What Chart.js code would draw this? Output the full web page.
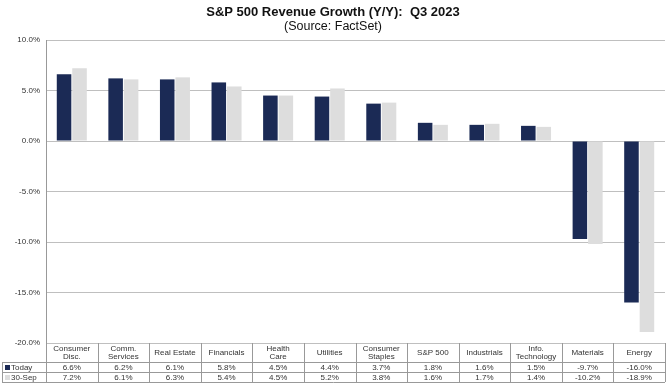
<!DOCTYPE html>
<html>
<head>
<meta charset="utf-8">
<script src="https://cdn.jsdelivr.net/npm/chart.js@4/dist/chart.umd.min.js"></script>
<style>
  html, body { margin: 0; padding: 0; background: #fff; }
  #wrap { width: 667px; height: 387px; position: relative; }
</style>
</head>
<body>
<div id="wrap"><canvas id="chart"></canvas></div>
<script>
const categories = [
  ['Consumer', 'Disc.'], ['Comm.', 'Services'], ['Real Estate'], ['Financials'],
  ['Health', 'Care'], ['Utilities'], ['Consumer', 'Staples'], ['S&P 500'],
  ['Industrials'], ['Info.', 'Technology'], ['Materials'], ['Energy']
];
const todayValues = [6.6, 6.2, 6.1, 5.8, 4.5, 4.4, 3.7, 1.8, 1.6, 1.5, -9.7, -16.0];
const sep30Values = [7.2, 6.1, 6.3, 5.4, 4.5, 5.2, 3.8, 1.6, 1.7, 1.4, -10.2, -18.9];
const yTicks = [10, 5, 0, -5, -10, -15, -20];

const NAVY = '#1b2a55';
const GREY = '#dddddd';
const LINE = '#bfbfbf';
const FONT = 'Arial, "Liberation Sans", sans-serif';

const pct = v => v.toFixed(1) + '%';

// title + data table under the plot
const tablePlugin = {
  id: 'tablePlugin',
  afterDraw(chart) {
    const { ctx, chartArea } = chart;
    const x = chart.scales.x;
    const n = categories.length;
    const cw = (chartArea.right - chartArea.left) / n;
    const top = chartArea.bottom;
    const r1 = top + 19, r2 = r1 + 10, r3 = r2 + 10;
    const leftEdge = 2;

    ctx.save();
    // title
    ctx.fillStyle = '#111';
    ctx.textAlign = 'center';
    ctx.textBaseline = 'middle';
    ctx.font = 'bold 13px ' + FONT;
    ctx.fillText('S&P 500 Revenue Growth (Y/Y):  Q3 2023', 333, 12);
    ctx.font = '12.5px ' + FONT;
    ctx.fillText('(Source: FactSet)', 333, 27);

    // table lines
    ctx.strokeStyle = '#999';
    ctx.lineWidth = 1;
    ctx.beginPath();
    for (let i = 0; i <= n; i++) {
      const xx = Math.round(chartArea.left + i * cw) + 0.5;
      ctx.moveTo(xx, top);
      ctx.lineTo(xx, r3);
    }
    [r1, r2, r3].forEach(yy => {
      ctx.moveTo(leftEdge, Math.round(yy) + 0.5);
      ctx.lineTo(chartArea.right, Math.round(yy) + 0.5);
    });
    ctx.moveTo(leftEdge + 0.5, r1);
    ctx.lineTo(leftEdge + 0.5, r3);
    ctx.stroke();

    // headers and values
    ctx.fillStyle = '#333';
    ctx.font = '8px ' + FONT;
    categories.forEach((lab, i) => {
      const cx = x.getPixelForValue(i);
      if (lab.length === 2) {
        ctx.fillText(lab[0], cx, top + 5.5);
        ctx.fillText(lab[1], cx, top + 13.5);
      } else {
        ctx.fillText(lab[0], cx, top + 10);
      }
      ctx.fillText(pct(todayValues[i]), cx, r1 + 5.5);
      ctx.fillText(pct(sep30Values[i]), cx, r2 + 5.5);
    });

    // legend keys
    ctx.textAlign = 'left';
    ctx.fillStyle = NAVY;
    ctx.fillRect(5, r1 + 3, 5, 5);
    ctx.fillStyle = GREY;
    ctx.fillRect(5, r2 + 3, 5, 5);
    ctx.fillStyle = '#333';
    ctx.fillText('Today', 11, r1 + 5.5);
    ctx.fillText('30-Sep', 11, r2 + 5.5);
    ctx.restore();
  }
};

new Chart(document.getElementById('chart'), {
  type: 'bar',
  data: {
    labels: categories,
    datasets: [
      { label: 'Today', data: todayValues, backgroundColor: NAVY, borderWidth: 0,
        categoryPercentage: 0.6, barPercentage: 0.94 },
      { label: '30-Sep', data: sep30Values, backgroundColor: GREY, borderWidth: 0,
        categoryPercentage: 0.6, barPercentage: 0.94 }
    ]
  },
  options: {
    responsive: true,
    maintainAspectRatio: false,
    animation: false,
    layout: { padding: { top: 40, right: 2, bottom: 44, left: 0 } },
    scales: {
      x: { display: false },
      y: {
        min: -20, max: 10,
        afterFit: s => { s.width = 46; },
        afterBuildTicks: s => { s.ticks = yTicks.map(v => ({ value: v })); },
        border: { display: true, color: '#999' },
        grid: { color: LINE, drawTicks: false },
        ticks: {
          color: '#333', padding: 6,
          font: { family: FONT, size: 8 },
          callback: v => pct(v)
        }
      }
    },
    plugins: {
      legend: { display: false },
      tooltip: { enabled: false }
    }
  },
  plugins: [tablePlugin]
});
</script>
</body>
</html>
